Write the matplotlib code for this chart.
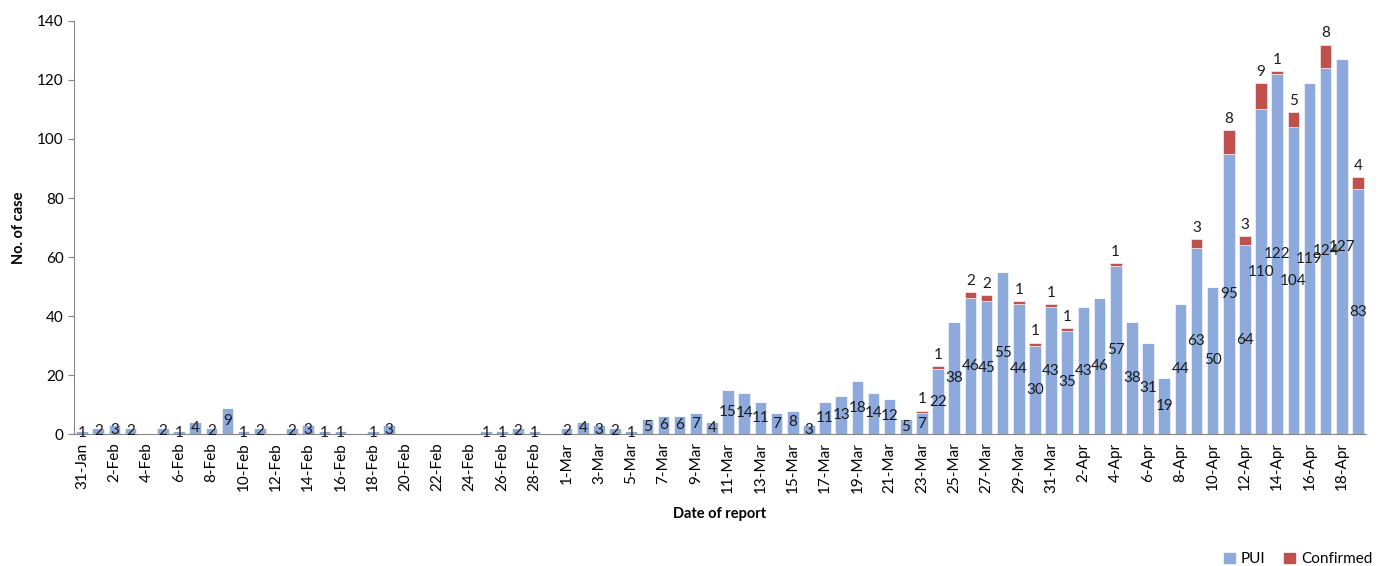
import numpy as np
import pandas as pd
import matplotlib
matplotlib.use("Agg")
import matplotlib.pyplot as plt
from matplotlib.patches import Patch

# ── Data ──────────────────────────────────────────────────────────────────────
DATES = pd.date_range("2020-01-31", "2020-04-19", freq="D")
DATE_LABELS = [f"{d.day}-{d.strftime('%b')}" for d in DATES]

PUI = [
    1, 2, 3, 2, 0, 2, 1, 4, 2, 9,          # 31-Jan .. 9-Feb
    1, 2, 0, 2, 3, 1, 1, 0, 1, 3,          # 10-Feb .. 19-Feb
    0, 0, 0, 0, 0, 1, 1, 2, 1, 0,          # 20-Feb .. 29-Feb
    2, 4, 3, 2, 1, 5, 6, 6, 7, 4,          # 1-Mar .. 10-Mar
    15, 14, 11, 7, 8, 3, 11, 13, 18, 14,   # 11-Mar .. 20-Mar
    12, 5, 7, 22, 38, 46, 45, 55, 44, 30,  # 21-Mar .. 30-Mar
    43, 35, 43, 46, 57, 38, 31, 19, 44, 63,  # 31-Mar .. 9-Apr
    50, 95, 64, 110, 122, 104, 119, 124, 127, 83,  # 10-Apr .. 19-Apr
]
CONFIRMED = [0] * 52 + [
    1, 1, 0, 2, 2, 0, 1, 1,                # 23-Mar .. 30-Mar
    1, 1, 0, 0, 1, 0, 0, 0, 0, 3,          # 31-Mar .. 9-Apr
    0, 8, 3, 9, 1, 5, 0, 8, 0, 4,          # 10-Apr .. 19-Apr
]

PUI_COLOR = "#8EA9DB"
CONF_COLOR = "#C0504D"

plt.rcParams.update({
    "font.family": ["Lato", "DejaVu Sans"],
    "font.size": 11,
})

fig = plt.figure(figsize=(13.79, 5.66), dpi=100)
ax = fig.add_axes([0.0537, 0.233, 0.9369, 0.730])

x = np.arange(len(DATES))
pui = np.array(PUI)
conf = np.array(CONFIRMED)

ax.bar(x, pui, width=0.72, color=PUI_COLOR, edgecolor="white", linewidth=0.4, label="PUI")
ax.bar(x, conf, width=0.72, bottom=pui, color=CONF_COLOR, edgecolor="white", linewidth=0.4,
       label="Confirmed")

# data labels: PUI centred in the bar, Confirmed just above the stack
for xi, p, c in zip(x, pui, conf):
    if p > 0:
        ax.text(xi, p / 2, str(p), ha="center", va="center", fontsize=11, color="#1a1a1a")
    if c > 0:
        ax.annotate(str(c), (xi, p + c), xytext=(0, 3), textcoords="offset points",
                    ha="center", va="bottom", fontsize=11, color="#1a1a1a")

ax.set_xlim(-0.5, len(x) - 0.5)
ax.set_ylim(0, 140)
ax.set_yticks(range(0, 141, 20))
ax.set_xticks(x[::2])
ax.set_xticklabels(DATE_LABELS[::2], rotation=90, fontsize=11)
ax.tick_params(axis="x", length=0, pad=6)
ax.tick_params(axis="y", length=4, color="#868686", labelsize=11)

for side in ["top", "right"]:
    ax.spines[side].set_visible(False)
for side in ["left", "bottom"]:
    ax.spines[side].set_color("#868686")

ax.set_ylabel("No. of case", fontweight="bold", fontsize=10.5, labelpad=8)
ax.set_xlabel("Date of report", fontweight="bold", fontsize=10.5, labelpad=10)

handles = [Patch(color=PUI_COLOR, label="PUI"), Patch(color=CONF_COLOR, label="Confirmed")]
fig.legend(handles=handles, loc="lower right", bbox_to_anchor=(1.005, -0.025), ncol=2,
           frameon=False, fontsize=11, handlelength=0.7, handleheight=0.7,
           handletextpad=0.4, columnspacing=1.2)

fig.savefig("out.png", dpi=100)
